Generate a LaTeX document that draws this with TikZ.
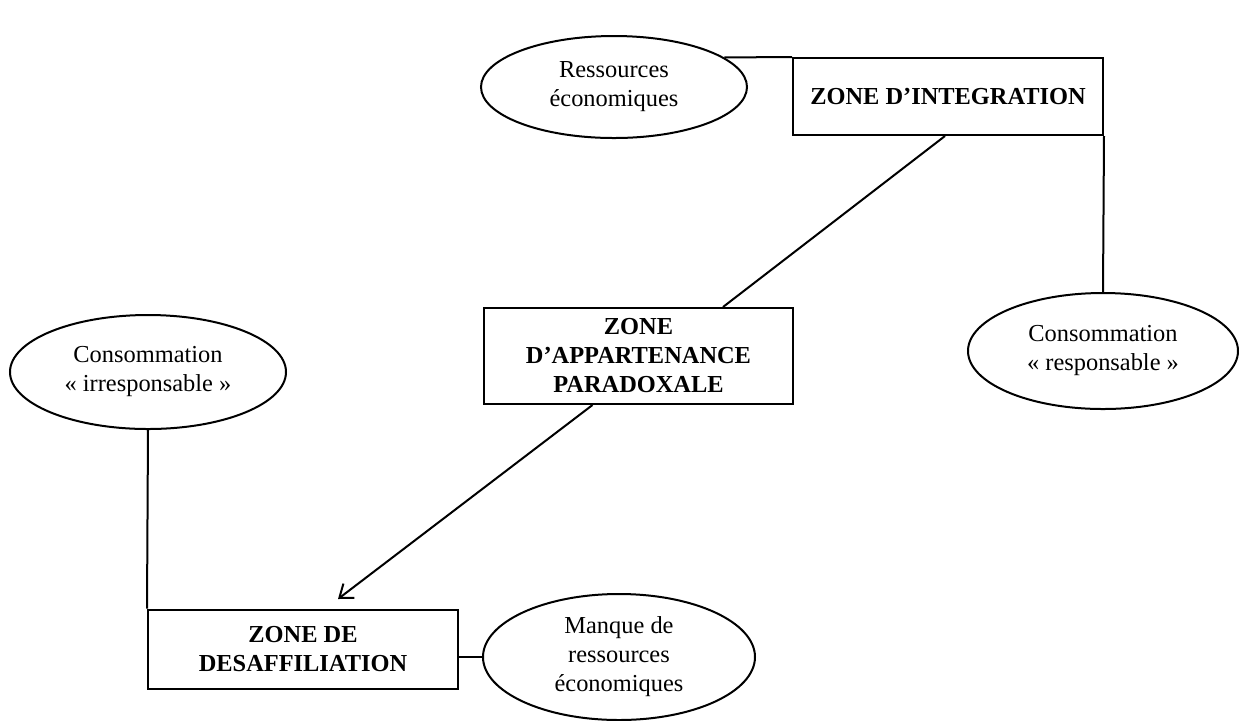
\documentclass[tikz,border=0pt]{standalone}
\usepackage{fontspec}
\setmainfont{Liberation Serif}
\usetikzlibrary{shapes.geometric,arrows.meta,calc}
\begin{document}
\begin{tikzpicture}[x=0.5pt,y=-0.5pt,
  every node/.style={font=\fontsize{12.2}{14.5}\selectfont, align=center, inner sep=0pt},
  ell/.style={draw, ellipse, line width=1pt},
  zone/.style={draw, rectangle, line width=1pt, font=\fontsize{12.2}{14.5}\selectfont\bfseries},
  link/.style={line width=1pt}]
\useasboundingbox (0,0) rectangle (1239,720);
\node[ell, minimum width=133pt, minimum height=51pt] (res) at (614,87) {Ressources\\économiques};
\node[zone, minimum width=155pt, minimum height=38.5pt] (intg) at (948,96.5) {ZONE D’INTEGRATION};
\node[ell, minimum width=135pt, minimum height=58pt] (resp) at (1103,351) {Consommation\\« responsable »};
\node[zone, minimum width=154.5pt, minimum height=48pt] (par) at (638.5,356) {ZONE\\D’APPARTENANCE\\PARADOXALE};
\node[ell, minimum width=138pt, minimum height=57pt] (irr) at (148,372) {Consommation\\« irresponsable »};
\node[zone, minimum width=155pt, minimum height=39.5pt] (des) at (303,649) {ZONE DE\\DESAFFILIATION};
\node[ell, minimum width=136pt, minimum height=63pt] (man) at (619,657) {Manque de\\ressources\\économiques};
\coordinate (tip) at (338,599);
\draw[link] (res.15) -- (intg.north west);
\draw[link] (intg.south east) -- (resp.north);
\draw[link] ($(intg.south)+(-3,0)$) -- ($(par.north)+(84.5,0)$);
\draw[link, -{Straight Barb[length=6pt,width=9pt]}] ($(par.south)+(-46,0)$) -- (tip);
\draw[link] (irr.south) -- (des.north west);
\draw[link] (man.west) -- (man.west -| des.east);
\end{tikzpicture}
\end{document}
